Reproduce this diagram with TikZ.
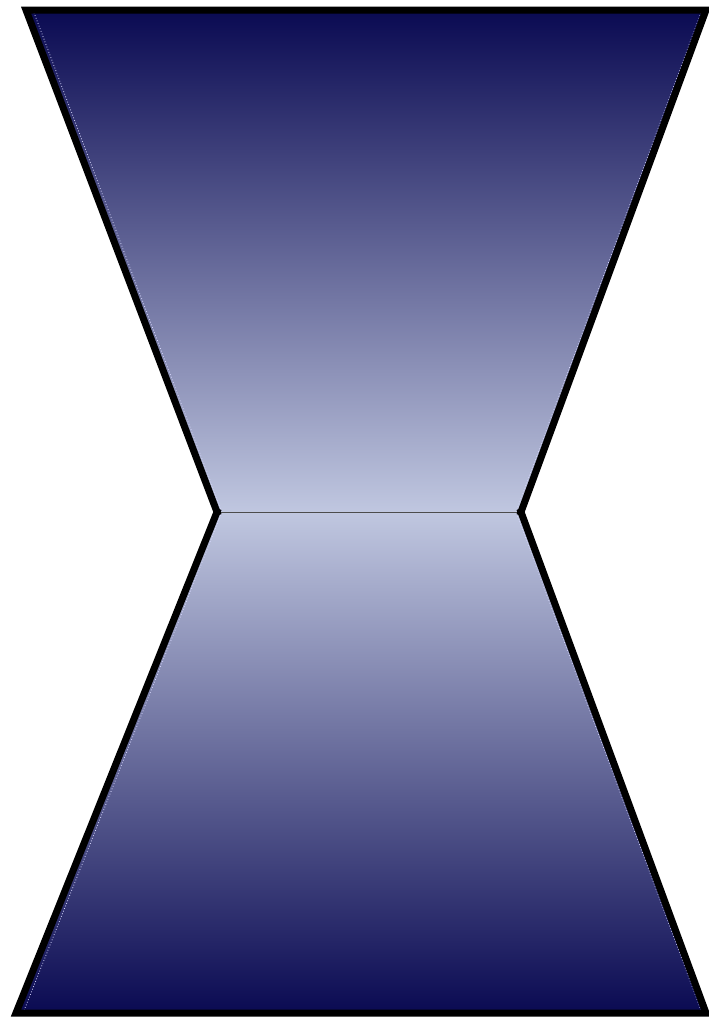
\documentclass[tikz,border=0pt]{standalone}
\definecolor{navy}{RGB}{10,10,82}
\definecolor{lav}{RGB}{192,199,224}
\tikzset{
  edge/.style={line width=7pt, line join=miter, line cap=rect, black},
  midline/.style={line width=1pt, black!70},
  hl/.style={white!85!blue, line width=0.8pt, dotted}
}
\begin{document}
\begin{tikzpicture}[x=1pt,y=-1pt]
\useasboundingbox (0,0) rectangle (709,1020);
\fill[white] (0,0) rectangle (709,1020);
\coordinate (TL) at (26,10);
\coordinate (TR) at (706,10);
\coordinate (ML) at (217,512);
\coordinate (MR) at (521,512);
\coordinate (BL) at (16,1013);
\coordinate (BR) at (706,1013);
\shade[top color=navy, bottom color=lav, middle color=navy!50!lav, shading angle=0]
  (TL) -- (TR) -- (MR) -- (ML) -- cycle;
\shade[top color=lav, bottom color=navy, middle color=navy!50!lav]
  (ML) -- (MR) -- (BR) -- (BL) -- cycle;
\draw[hl] ([xshift=7pt]TL) -- ([xshift=5pt]ML);
\draw[hl] ([xshift=-4pt]TR) -- ([xshift=-5pt]MR);
\draw[hl] ([xshift=7pt]BL) -- ([xshift=5pt]ML);
\draw[hl] ([xshift=-4pt]BR) -- ([xshift=-5pt]MR);
\draw[midline] (ML) -- (MR);
\draw[edge] (ML) -- (TL) -- (TR) -- (MR);
\draw[edge] (ML) -- (BL) -- (BR) -- (MR);
\end{tikzpicture}
\end{document}
